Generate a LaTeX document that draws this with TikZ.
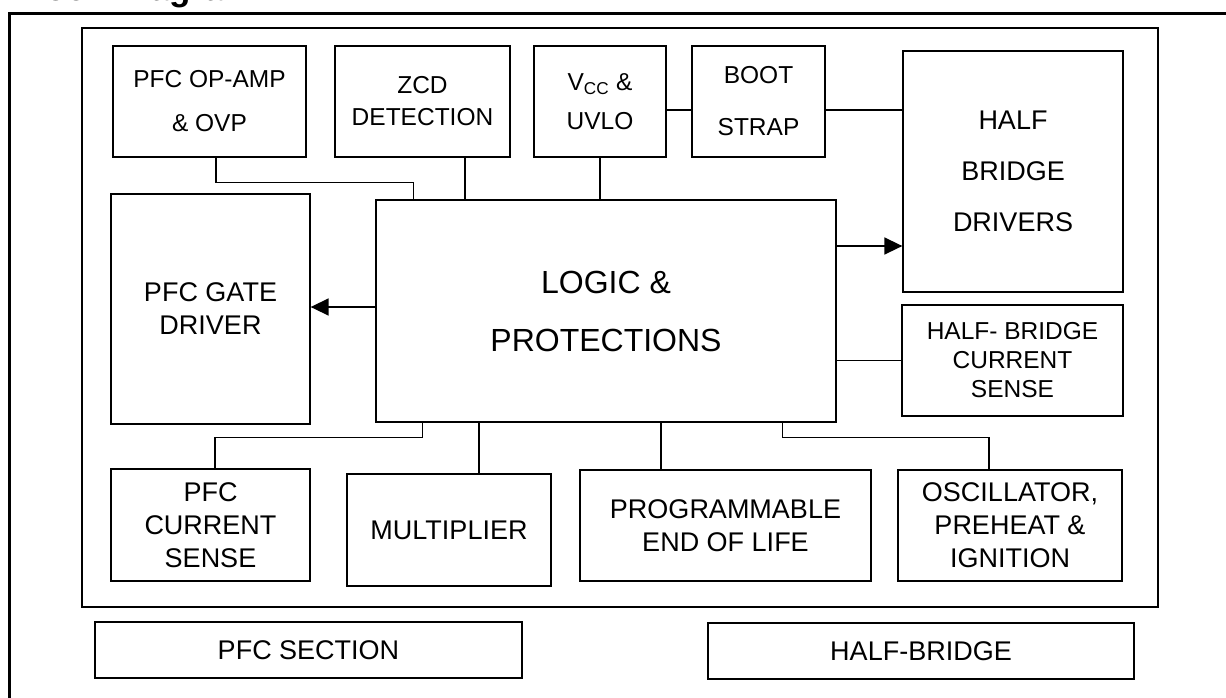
\documentclass[tikz,border=0pt]{standalone}
\usepackage{fontspec}
\setmainfont{Liberation Sans}
\usetikzlibrary{arrows.meta, positioning, calc}
\tikzset{
  blk/.style={
    draw, line width=1.3pt, inner sep=0pt,
    align=center, font=\fontsize{24.5}{30}\selectfont
  },
  blkl/.style={blk, font=\fontsize{27}{33}\selectfont},
  core/.style={blk, font=\fontsize{32}{58}\selectfont},
  sect/.style={blkl, line width=1.8pt},
  line/.style={line width=1.4pt},
  sig/.style={-{Triangle[length=18pt,width=17pt]}, line width=1.6pt},
  frame/.style={line width=3pt},
  chipf/.style={line width=2.3pt}
}

\begin{document}
\begin{tikzpicture}[x=1pt, y=-1pt]
  \useasboundingbox (0,0) rectangle (1226,697);

  % heading, cut off at the top edge
  \node[anchor=base west, inner sep=0pt,
        font=\fontsize{35}{40}\selectfont\bfseries] (title) at (10,0.5) {Block Diagram};
  \draw[frame] (9,720) -- (9,13) -- (1240,13);
  \draw[chipf] (82,28) rectangle (1158,607);

  % top row
  \node[blk, minimum width=193pt, minimum height=111pt] (opamp) at (209.5,101.5)
        {PFC OP-AMP\\[14pt]\& OVP};
  \node[blk, minimum width=175pt, minimum height=111pt] (zcd) at (422.5,101.5)
        {ZCD\\[2pt]DETECTION};
  \node[blk, minimum width=132pt, minimum height=111pt] (vcc) at (600,101.5)
        {V\textsubscript{CC} \&\\[9pt]UVLO};
  \node[blk, minimum width=133pt, minimum height=111pt] (boot) at (758.5,101.5)
        {BOOT\\[22pt]STRAP};
  \node[blkl, minimum width=220pt, minimum height=241pt] (hbdrv) at (1013,171.5)
        {HALF\\[18pt]BRIDGE\\[18pt]DRIVERS};
  \node[blk, minimum width=221pt, minimum height=111pt] (hbcs) at (1012.5,360.5)
        {HALF- BRIDGE\\[-1pt]CURRENT\\[-1pt]SENSE};

  % middle
  \node[core, minimum width=460pt, minimum height=222pt] (logic) at (606,311)
        {LOGIC \&\\PROTECTIONS};
  \node[blkl, minimum width=199pt, minimum height=230pt] (gate) at (210.5,309)
        {PFC GATE\\DRIVER};

  % bottom row
  \node[blkl, minimum width=199pt, minimum height=112pt] (pfccs) at (210.5,525)
        {PFC\\CURRENT\\SENSE};
  \node[blkl, minimum width=204pt, minimum height=112pt] (mult) at (449,530)
        {MULTIPLIER};
  \node[blkl, minimum width=291pt, minimum height=111pt] (eol) at (725.5,525.5)
        {PROGRAMMABLE\\END OF LIFE};
  \node[blkl, minimum width=224pt, minimum height=111pt] (osc) at (1010,525.5)
        {OSCILLATOR,\\PREHEAT \&\\IGNITION};

  % sections
  \node[sect, minimum width=427pt, minimum height=56pt] (pfcsec) at (308.5,650)
        {PFC SECTION};
  \node[sect, minimum width=426pt, minimum height=56pt] (hbsec) at (921,651)
        {HALF-BRIDGE};

  % connections
  \draw[line] ([xshift=6.5pt]opamp.south) -- ++(0,25) -| ([xshift=38pt]logic.north west);
  \draw[line] ([xshift=42.5pt]zcd.south) -- ([xshift=42.5pt]zcd.south |- logic.north);
  \draw[line] (vcc.south) -- (vcc.south |- logic.north);
  \draw[line] ([yshift=-8.5pt]vcc.east) -- ([yshift=-8.5pt]vcc.east -| boot.west);
  \draw[line] ([yshift=-8.5pt]boot.east) -- ([yshift=-8.5pt]boot.east -| hbdrv.west);
  \draw[sig] ([yshift=65pt]logic.east) -- ([yshift=65pt]logic.east -| hbdrv.west);
  \draw[sig] ([yshift=4pt]logic.west) -- ([yshift=4pt]logic.west -| gate.east);
  \draw[line] (hbcs.west) -- (hbcs.west -| logic.east);
  \draw[line] ([xshift=47pt]logic.south west) -- ++(0,15) -| ([xshift=4.5pt]pfccs.north);
  \draw[line] ([xshift=30pt]mult.north) -- ([xshift=30pt]mult.north |- logic.south);
  \draw[line] ([xshift=-64.5pt]eol.north) -- ([xshift=-64.5pt]eol.north |- logic.south);
  \draw[line] ([xshift=407pt]logic.south west) -- ++(0,15) -| ([xshift=-21pt]osc.north);

\end{tikzpicture}
\end{document}
